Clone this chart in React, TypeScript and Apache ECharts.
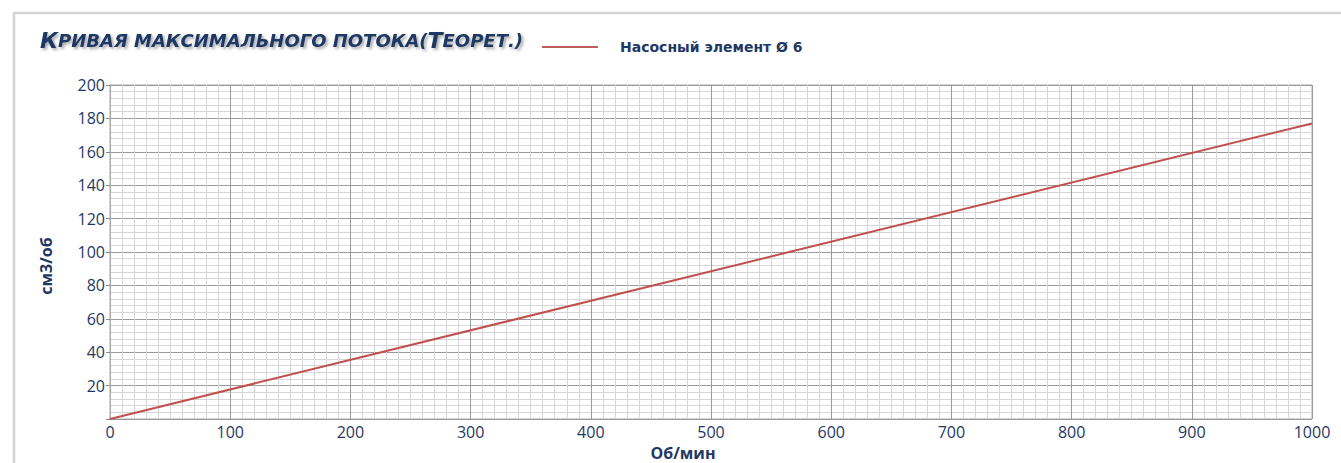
import React, { useEffect, useRef } from "react";
import * as echarts from "echarts";

const seriesName = "Насосный элемент Ø 6";
const xValues = [0, 1000];
const yValues = [0, 177];
const yAxisName = "см3/об";
const xAxisName = "Об/мин";

const NAVY = "#1F3864";
const FONT = "'Open Sans', 'Noto Sans', sans-serif";
const TFONT = "'DejaVu Sans', sans-serif";

export default function App() {
  const ref = useRef<HTMLDivElement>(null);
  useEffect(() => {
    document.body.style.margin = "0";
    const chart = echarts.init(ref.current!, null, { renderer: "svg" });
    const shadow = {
      textShadowColor: "rgba(0,0,0,0.35)",
      textShadowBlur: 3,
      textShadowOffsetX: 2,
      textShadowOffsetY: 2,
    };
    chart.setOption({
      animation: false,
      backgroundColor: "#ffffff",
      title: {
        left: 35,
        top: 24,
        text: "{b|К}{s|РИВАЯ МАКСИМАЛЬНОГО ПОТОКА(}{b|Т}{s|ЕОРЕТ.)}",
        textStyle: {
          rich: {
            b: {
              fontFamily: TFONT,
              fontWeight: "bold",
              fontStyle: "italic",
              fontSize: 22,
              color: NAVY,
              ...shadow,
            },
            s: {
              fontFamily: TFONT,
              fontWeight: "bold",
              fontStyle: "italic",
              fontSize: 18,
              color: NAVY,
              ...shadow,
            },
          },
        },
      },
      legend: {
        left: 537,
        top: 35,
        icon: "rect",
        itemWidth: 56,
        itemHeight: 1.5,
        data: [seriesName],
        textStyle: {
          fontFamily: TFONT,
          fontWeight: "bold",
          fontSize: 14,
          color: NAVY,
          padding: [0, 0, 0, 17],
        },
      },
      grid: {
        left: 110,
        top: 85,
        width: 1202,
        height: 334,
        show: true,
        borderColor: "#aaaaaa",
        borderWidth: 1,
        containLabel: false,
      },
      xAxis: {
        type: "value",
        min: 0,
        max: 1000,
        interval: 100,
        axisLine: { show: false },
        axisTick: { show: false },
        axisLabel: {
          color: NAVY,
          fontFamily: FONT,
          fontSize: 16,
          margin: 5,
          formatter: (v: number) => String(v),
        },
        splitLine: { show: true, lineStyle: { color: "#9a9a9a", width: 1 } },
        minorTick: { show: false, splitNumber: 10 },
        minorSplitLine: { show: true, lineStyle: { color: "#d6d6d6", width: 1 } },
      },
      yAxis: {
        type: "value",
        min: 0,
        max: 200,
        interval: 20,
        axisLine: { show: true, lineStyle: { color: "#aaaaaa" } },
        axisTick: { show: true, length: 4, lineStyle: { color: "#888888" } },
        axisLabel: {
          color: NAVY,
          fontFamily: FONT,
          fontSize: 16,
          margin: 5,
          formatter: (v: number) => (v === 0 ? "" : String(v)),
        },
        splitLine: { show: true, lineStyle: { color: "#9a9a9a", width: 1 } },
        minorTick: { show: false, splitNumber: 5 },
        minorSplitLine: { show: true, lineStyle: { color: "#d6d6d6", width: 1 } },
      },
      series: [
        {
          name: seriesName,
          type: "line",
          data: xValues.map((x, i) => [x, yValues[i]]),
          symbol: "none",
          lineStyle: { color: "#C0504D", width: 2 },
          itemStyle: { color: "#A52A2A" },
        },
      ],
      graphic: [
        {
          type: "rect",
          shape: { x: 14, y: 13, width: 1340, height: 470 },
          style: { fill: "none", stroke: "#d4d4d4", lineWidth: 2.5 },
          silent: true,
        },
        {
          type: "text",
          x: 683,
          y: 453,
          style: {
            text: xAxisName,
            fontFamily: FONT,
            fontWeight: "bold",
            fontSize: 16,
            fill: NAVY,
            align: "center",
            verticalAlign: "middle",
          },
        },
        {
          type: "text",
          x: 46,
          y: 266,
          rotation: Math.PI / 2,
          style: {
            text: yAxisName,
            fontFamily: FONT,
            fontWeight: "bold",
            fontSize: 16,
            fill: NAVY,
            align: "center",
            verticalAlign: "middle",
          },
        },
      ],
    });
    return () => chart.dispose();
  }, []);
  return <div ref={ref} style={{ width: 1341, height: 463 }} />;
}
